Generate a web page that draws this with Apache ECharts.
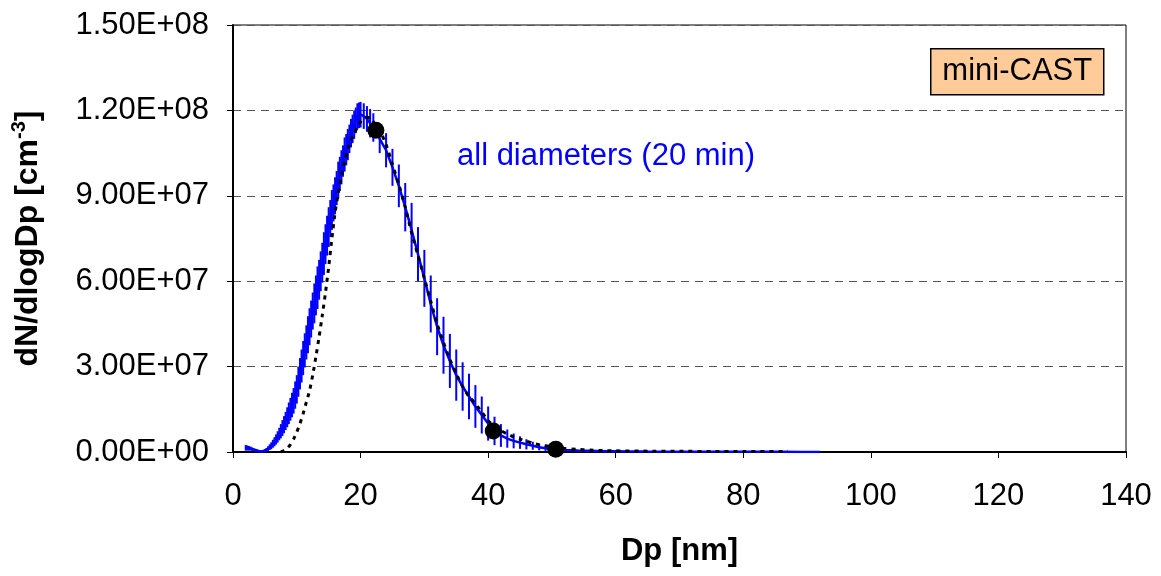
<!DOCTYPE html>
<html>
<head>
<meta charset="utf-8">
<script src="https://cdn.jsdelivr.net/npm/echarts@6/dist/echarts.min.js"></script>
<style>
html,body{margin:0;padding:0;background:#fff;}
#chart{width:1161px;height:576px;}
</style>
</head>
<body>
<div id="chart"></div>
<script>
// ---- data ----
const dpBlue = [2.0,2.25,2.5,2.75,3.0,3.25,3.5,3.75,4.0,4.25,4.5,4.75,
  5.0,5.25,5.5,5.75,6.0,6.25,6.5,6.75,7.0,7.25,7.5,7.75,8.0,8.25,8.5,8.75,9.0,9.25,9.5,9.75,
  10.0,10.25,10.5,10.75,11.0,11.25,11.5,11.75,12.0,12.25,12.5,12.75,13.0,13.25,13.5,13.75,
  14.0,14.25,14.5,14.75,15.0,15.25,15.5,15.75,16.0,16.25,16.5,16.75,17.0,17.25,17.5,17.75,
  18.0,18.25,18.5,18.75,19.0,19.25,19.5,19.75,20.0,20.5,21.0,21.5,22.0,
  23,24,25,26,27,28,29,30,31,32,33,34,35,36,37,38,39,40,41,42,43,44,45,46,47,48,49,50,
  52,54,56,58,60,62,65,68,71,74,77,80,83,86,89,92];
const blueVals = [1.5e6,1.4e6,1.3e6,1.2e6,1.0e6,0.8e6,0.65e6,0.5e6,0.35e6,0.2e6,0.2e6,0.2e6,
  0.5e6,0.8e6,1.2e6,1.7e6,2.2e6,2.9e6,3.6e6,4.4e6,5.3e6,6.3e6,7.3e6,8.4e6,9.6e6,1.09e7,1.22e7,1.36e7,1.5e7,1.65e7,1.8e7,2.0e7,
  2.2e7,2.47e7,2.75e7,3.02e7,3.3e7,3.57e7,3.85e7,4.12e7,4.4e7,4.67e7,4.95e7,5.22e7,5.5e7,5.77e7,6.05e7,6.35e7,
  6.65e7,6.97e7,7.3e7,7.6e7,7.9e7,8.2e7,8.5e7,8.75e7,9.0e7,9.27e7,9.55e7,9.77e7,1.0e8,1.022e8,1.045e8,1.062e8,
  1.08e8,1.1e8,1.12e8,1.135e8,1.15e8,1.165e8,1.18e8,1.183e8,1.185e8,1.18e8,1.17e8,1.155e8,1.14e8,
  1.10e8,1.06e8,1.0e8,9.35e7,8.6e7,7.8e7,6.95e7,6.1e7,5.2e7,4.4e7,3.75e7,3.2e7,2.7e7,2.3e7,1.95e7,1.6e7,1.3e7,1.0e7,7.4e6,5.8e6,4.7e6,3.9e6,3.3e6,2.7e6,2.2e6,1.7e6,1.3e6,1.0e6,
  0.7e6,0.5e6,0.4e6,0.3e6,0.25e6,0.2e6,0.15e6,0.12e6,0.1e6,0.08e6,0.07e6,0.06e6,0.05e6,0.05e6,0.04e6,0.04e6];
const blueErr = [1.0e6,0.9e6,0.8e6,0.7e6,0.6e6,0.5e6,0.5e6,0.4e6,0.4e6,0.4e6,0.4e6,0.4e6,
  0.5e6,0.6e6,0.8e6,1.0e6,1.2e6,1.4e6,1.6e6,1.8e6,2.0e6,2.2e6,2.5e6,2.8e6,3.0e6,3.2e6,3.5e6,3.8e6,4.0e6,4.3e6,4.5e6,4.8e6,
  5.0e6,5.3e6,5.5e6,5.8e6,6.0e6,6.0e6,6.0e6,6.5e6,6.5e6,6.5e6,6.5e6,7.0e6,7.0e6,7.5e6,7.0e6,7.0e6,
  7.0e6,7.5e6,7.0e6,7.0e6,7.0e6,6.5e6,7.0e6,6.5e6,6.5e6,6.0e6,6.5e6,6.0e6,6.0e6,5.5e6,6.0e6,5.5e6,
  5.5e6,5.0e6,5.0e6,5.0e6,5.0e6,4.5e6,4.5e6,4.5e6,4.5e6,4.5e6,4.5e6,5.0e6,5.0e6,
  5.0e6,6.0e6,6.5e6,7.5e6,8.5e6,9.5e6,9.5e6,1.0e7,1.0e7,1.0e7,1.0e7,9.5e6,9.0e6,8.5e6,8.0e6,7.5e6,6.5e6,6.0e6,5.0e6,4.0e6,3.2e6,2.6e6,2.2e6,1.8e6,1.4e6,1.1e6,0.9e6,0.7e6,
  0.4e6,0.3e6,0.25e6,0.2e6,0.15e6,0.1e6,0.1e6,0.1e6,0.1e6,0.1e6,0.1e6,0.1e6,0.1e6,0.1e6,0.1e6,0.1e6];

const dpFit = [7.5,8,8.5,9,9.5,10,10.5,11,11.5,12,12.5,13,13.5,14,14.5,15,15.5,16,16.5,17,17.5,18,18.5,19,19.5,20,20.5,21,21.5,22,23,24,25,26,27,28,29,30,31,32,33,34,35,36,37,38,39,40,41,42,43,44,45,46,47,48,50,52,54,56,58,60,65,70,75,80,87];
const fitVals = [0,0.5e6,1.3e6,2.6e6,4.5e6,7.0e6,1.0e7,1.35e7,1.75e7,2.15e7,2.7e7,3.35e7,4.05e7,4.8e7,5.6e7,6.5e7,7.5e7,8.4e7,9.1e7,9.7e7,1.02e8,1.06e8,1.095e8,1.12e8,1.14e8,1.16e8,1.17e8,1.175e8,1.175e8,1.16e8,1.13e8,1.08e8,1.01e8,9.4e7,8.6e7,7.7e7,6.9e7,6.1e7,5.3e7,4.5e7,3.85e7,3.25e7,2.75e7,2.3e7,1.95e7,1.7e7,1.4e7,1.1e7,9.0e6,7.5e6,6.3e6,5.3e6,4.5e6,3.8e6,3.1e6,2.6e6,1.8e6,1.2e6,0.9e6,0.7e6,0.5e6,0.4e6,0.3e6,0.25e6,0.2e6,0.2e6,0.2e6];

const dpMark = [22.4, 40.8, 50.6];
const markVals = [1.13e8, 7.4e6, 1.0e6];

const yTickValues = [0, 3e7, 6e7, 9e7, 1.2e8, 1.5e8];
const yTickLabels = ['0.00E+00','3.00E+07','6.00E+07','9.00E+07','1.20E+08','1.50E+08'];

const seriesLabel = 'all diameters (20 min)';
const boxLabel = 'mini-CAST';

// ---- chart ----
const FONT = '"Liberation Sans", Arial, sans-serif';
const chart = echarts.init(document.getElementById('chart'), null, {renderer: 'canvas'});

const blueLine = dpBlue.map((d, i) => [d, blueVals[i]]);
const blueBars = dpBlue.map((d, i) => [d, blueVals[i] - blueErr[i], blueVals[i] + blueErr[i]]);
const fitLine = dpFit.map((d, i) => [d, fitVals[i]]);
const marks = dpMark.map((d, i) => [d, markVals[i]]);

chart.setOption({
  animation: false,
  backgroundColor: '#fff',
  grid: {left: 233, right: 35, top: 25, bottom: 124, show: true, borderColor: '#000', borderWidth: 1, backgroundColor: 'transparent'},
  xAxis: {
    type: 'value', min: 0, max: 140, interval: 20,
    name: 'Dp [nm]', nameLocation: 'middle', nameGap: 84,
    nameTextStyle: {fontFamily: FONT, fontSize: 31, fontWeight: 'bold', color: '#000'},
    axisLine: {show: true, onZero: false, lineStyle: {color: '#000', width: 2}},
    axisTick: {show: true, inside: false, length: 6, lineStyle: {color: '#000', width: 1}},
    axisLabel: {fontFamily: FONT, fontSize: 31, color: '#000', margin: 29},
    splitLine: {show: false}
  },
  yAxis: {
    type: 'value', min: 0, max: 1.5e8, interval: 3e7,
    name: '{b|dN/dlogDp [cm}{s|-3}{b|]}', nameLocation: 'middle', nameGap: 186, nameRotate: 90,
    nameTextStyle: {
      fontFamily: FONT, fontSize: 32, fontWeight: 'bold', color: '#000',
      rich: {
        b: {fontFamily: FONT, fontSize: 32, fontWeight: 'bold', color: '#000', lineHeight: 38},
        s: {fontFamily: FONT, fontSize: 20, fontWeight: 'bold', color: '#000', verticalAlign: 'top', lineHeight: 38, padding: [0,0,14,0]}
      }
    },
    axisLine: {show: true, lineStyle: {color: '#000', width: 2}},
    axisTick: {show: true, inside: false, length: 6, lineStyle: {color: '#000', width: 1}},
    axisLabel: {
      fontFamily: FONT, fontSize: 31, color: '#000', margin: 24,
      formatter: function (v) {
        const k = yTickValues.findIndex(t => Math.abs(t - v) < 1);
        return k >= 0 ? yTickLabels[k] : '';
      }
    },
    splitLine: {show: true, lineStyle: {color: '#555', width: 1, type: [8, 6]}}
  },
  series: [
    {
      type: 'custom',
      name: 'errors',
      clip: true,
      renderItem: function (params, api) {
        const x = api.value(0);
        const p1 = api.coord([x, api.value(1)]);
        const p2 = api.coord([x, api.value(2)]);
        return {
          type: 'line',
          shape: {x1: p1[0], y1: p1[1], x2: p2[0], y2: p2[1]},
          style: {stroke: '#0000FF', lineWidth: 2}
        };
      },
      encode: {x: 0, y: [1, 2]},
      data: blueBars,
      z: 2
    },
    {
      type: 'line',
      name: seriesLabel,
      data: blueLine,
      showSymbol: false,
      symbol: 'none',
      lineStyle: {color: '#0000FF', width: 2.5},
      z: 3
    },
    {
      type: 'line',
      name: 'fit',
      data: fitLine,
      showSymbol: false,
      symbol: 'none',
      smooth: 0.2,
      lineStyle: {color: '#000', width: 3, type: [4, 5]},
      z: 4
    },
    {
      type: 'scatter',
      name: 'points',
      data: marks,
      symbol: 'circle',
      symbolSize: 17,
      itemStyle: {color: '#000', opacity: 1},
      z: 5
    }
  ],
  graphic: [
    {
      type: 'text', left: 457, top: 141,
      style: {text: seriesLabel, fontFamily: FONT, fontSize: 31, fill: '#0000FF'}
    },
    {
      type: 'group', left: 930, top: 48,
      children: [
        {type: 'rect', shape: {x: 0, y: 0, width: 173, height: 46}, style: {fill: '#FFCC99', stroke: '#000', lineWidth: 1.5}},
        {type: 'text', style: {text: boxLabel, x: 86.5, y: 23, align: 'center', verticalAlign: 'middle', fontFamily: FONT, fontSize: 31, fill: '#000'}}
      ]
    }
  ]
});
</script>
</body>
</html>
